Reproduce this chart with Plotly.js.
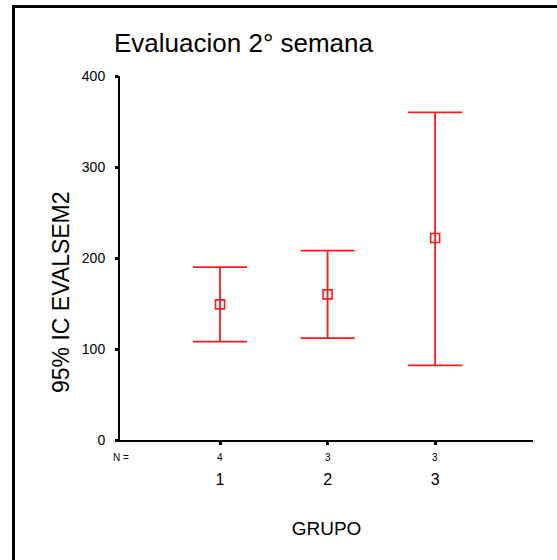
<!DOCTYPE html>
<html>
<head>
<meta charset="utf-8">
<script src="https://cdn.plot.ly/plotly-3.0.1.min.js"></script>
<style>
  html, body { margin: 0; padding: 0; background: #fff; }
  #chart { width: 557px; height: 560px; }
</style>
</head>
<body>
<div id="chart"></div>
<script>
// ---- data ----
var groups = [1, 2, 3];
var groupLabels = ["1", "2", "3"];
var nCounts = [4, 3, 3];
var means = [149, 160, 222];
var upper = [190, 208, 360];
var lower = [108, 112, 82];
var yTicks = [0, 100, 200, 300, 400];

var errPlus = upper.map(function (u, i) { return u - means[i]; });
var errMinus = lower.map(function (l, i) { return means[i] - l; });

var FONT = "Liberation Sans, Arial, sans-serif";

var trace = {
  type: "scatter",
  mode: "markers",
  x: groups,
  y: means,
  marker: {
    symbol: "square-open",
    size: 9,
    color: "#ff1a1a",
    line: { color: "#ff1a1a", width: 1.6 }
  },
  error_y: {
    type: "data",
    symmetric: false,
    array: errPlus,
    arrayminus: errMinus,
    color: "#ff1a1a",
    thickness: 1.8,
    width: 27
  },
  hoverinfo: "x+y",
  showlegend: false
};

var annotations = [];
// N = row
annotations.push({
  text: "N =", xref: "paper", yref: "paper",
  x: (121 - 120) / 413, y: (440 - 457) / 364,
  xanchor: "center", yanchor: "middle", showarrow: false,
  font: { family: FONT, size: 10, color: "#000" }
});
for (var i = 0; i < groups.length; i++) {
  annotations.push({
    text: String(nCounts[i]), xref: "x", yref: "paper",
    x: groups[i], y: (440 - 457) / 364,
    xanchor: "center", yanchor: "middle", showarrow: false,
    font: { family: FONT, size: 10, color: "#000" }
  });
}
// y axis title
annotations.push({
  text: "95% IC EVALSEM2", xref: "paper", yref: "paper",
  x: (61 - 120) / 413, y: (440 - 292) / 364,
  xanchor: "center", yanchor: "middle", textangle: -90, showarrow: false,
  font: { family: FONT, size: 23, color: "#000" }
});

var layout = {
  width: 557,
  height: 560,
  margin: { l: 120, r: 24, t: 76, b: 120, pad: 0 },
  paper_bgcolor: "#ffffff",
  plot_bgcolor: "#ffffff",
  font: { family: FONT, color: "#000" },
  title: {
    text: "Evaluacion 2° semana",
    font: { family: FONT, size: 26, color: "#000" },
    xref: "container", yref: "container",
    x: 114 / 557, xanchor: "left",
    y: 1 - 43 / 560, yanchor: "middle"
  },
  xaxis: {
    range: [0.07, 3.91],
    tickmode: "array",
    tickvals: groups,
    ticktext: groupLabels,
    showgrid: false,
    zeroline: false,
    showline: true,
    linecolor: "#000",
    linewidth: 2,
    ticks: "outside",
    ticklen: 3,
    tickwidth: 3,
    tickcolor: "#000",
    ticklabelstandoff: 21,
    tickfont: { family: FONT, size: 16, color: "#000" },
    title: {
      text: "GRUPO",
      font: { family: FONT, size: 19, color: "#000" },
      standoff: 34
    },
    automargin: false
  },
  yaxis: {
    range: [0, 400],
    tickmode: "array",
    tickvals: yTicks,
    showgrid: false,
    zeroline: false,
    showline: true,
    linecolor: "#000",
    linewidth: 2,
    ticks: "outside",
    ticklen: 3,
    tickwidth: 3,
    tickcolor: "#000",
    ticklabelstandoff: 7,
    tickfont: { family: FONT, size: 14, color: "#000" },
    automargin: false
  },
  shapes: [{
    type: "rect", xref: "paper", yref: "paper",
    x0: (13.5 - 120) / 413, x1: 1.3,
    y0: -0.6, y1: (440 - 6.5) / 364,
    line: { color: "#000", width: 3 },
    fillcolor: "rgba(0,0,0,0)",
    layer: "above"
  }],
  annotations: annotations
};

Plotly.newPlot("chart", [trace], layout, { displayModeBar: false, staticPlot: false });
</script>
</body>
</html>
